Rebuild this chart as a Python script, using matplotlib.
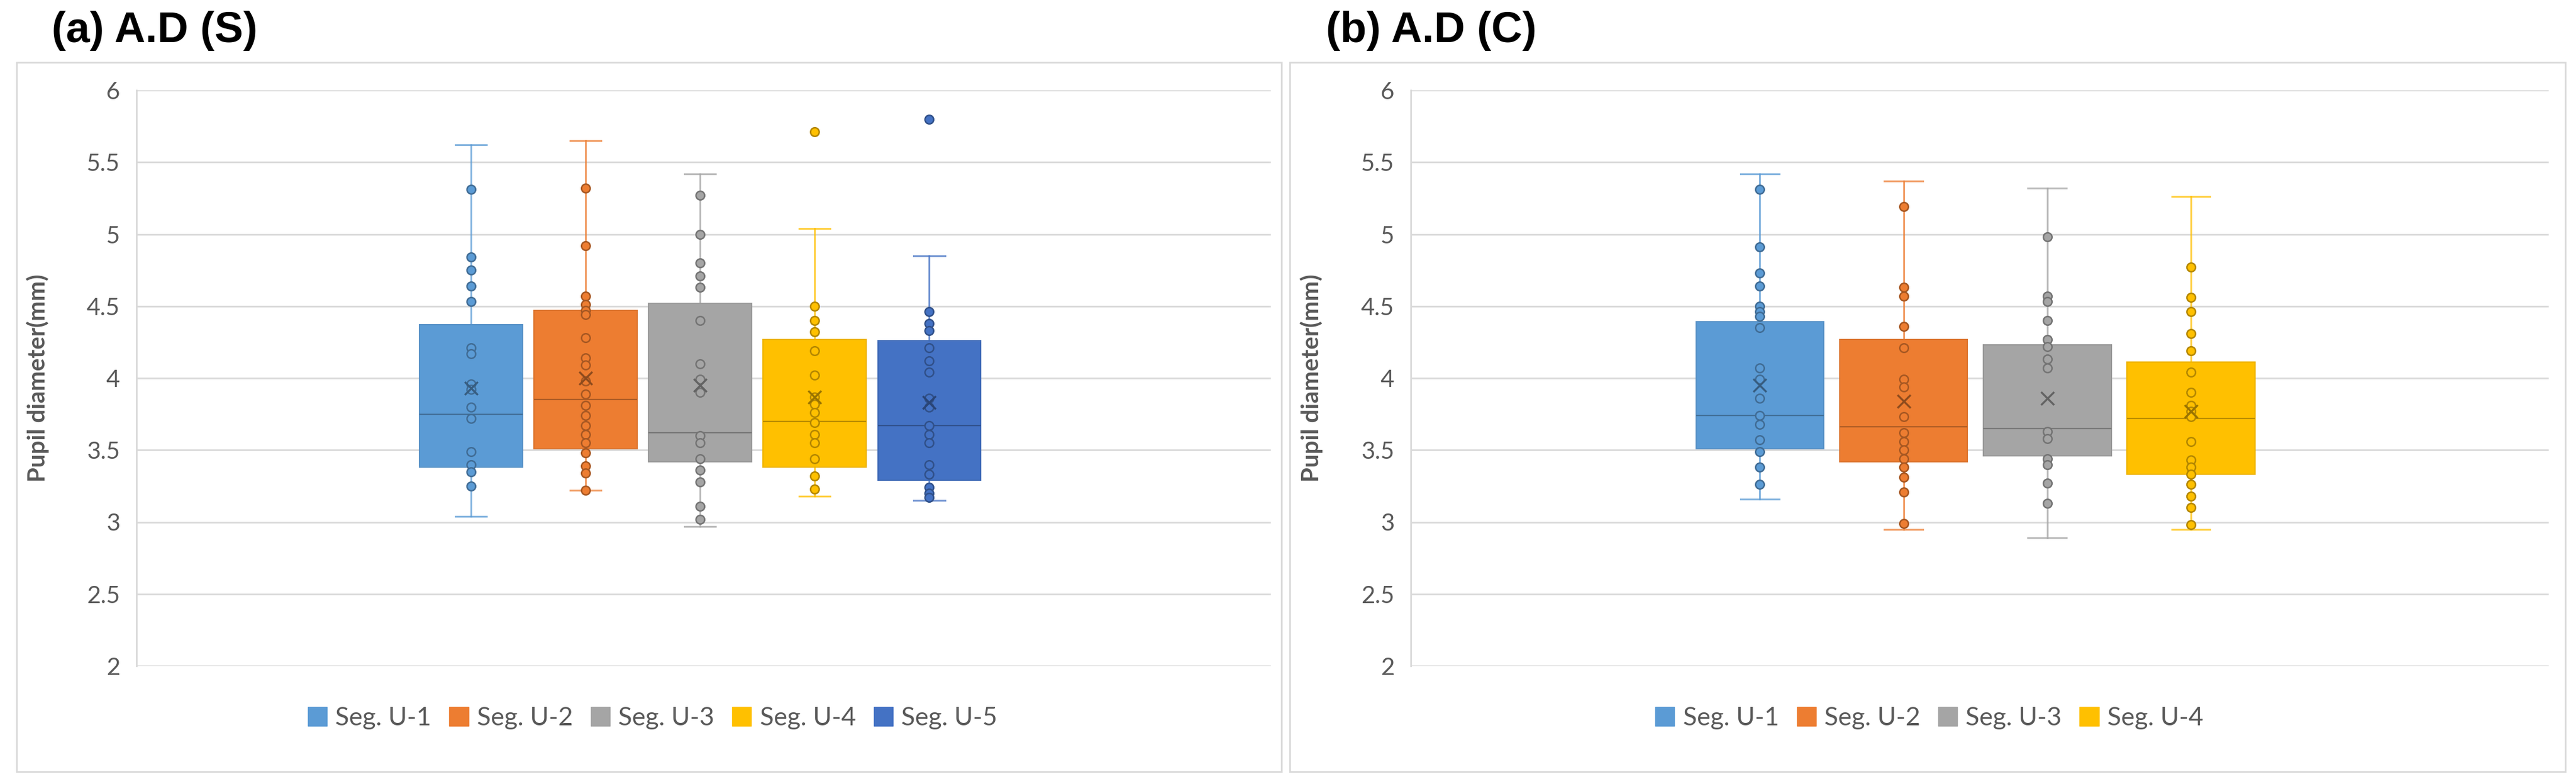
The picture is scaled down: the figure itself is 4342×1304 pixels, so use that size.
import numpy as np
import matplotlib.pyplot as plt
from matplotlib.patches import Patch, Rectangle
from matplotlib.colors import to_rgb

# ---- data ----
seg_labels_s = ['Seg. U-1', 'Seg. U-2', 'Seg. U-3', 'Seg. U-4', 'Seg. U-5']
seg_labels_c = ['Seg. U-1', 'Seg. U-2', 'Seg. U-3', 'Seg. U-4']

# (a) A.D (S): box stats per segment
s_whislo = [3.04, 3.22, 2.97, 3.18, 3.15]
s_q1 = [3.38, 3.51, 3.42, 3.38, 3.29]
s_med = [3.75, 3.85, 3.62, 3.70, 3.67]
s_q3 = [4.37, 4.47, 4.52, 4.27, 4.26]
s_whishi = [5.62, 5.65, 5.42, 5.04, 4.85]
s_mean = [3.93, 4.00, 3.95, 3.87, 3.83]

s_u1 = [5.31, 4.84, 4.75, 4.64, 4.53, 4.21, 4.17, 3.96, 3.92, 3.80, 3.72, 3.49, 3.40, 3.35, 3.25]
s_u2 = [5.32, 4.92, 4.57, 4.51, 4.47, 4.44, 4.28, 4.14, 4.09, 3.98, 3.89, 3.81, 3.74, 3.67,
        3.61, 3.55, 3.48, 3.39, 3.34, 3.22]
s_u3 = [5.27, 5.00, 4.80, 4.71, 4.63, 4.40, 4.10, 3.99, 3.90, 3.60, 3.55, 3.44, 3.36, 3.28, 3.11, 3.02]
s_u4 = [5.71, 4.50, 4.40, 4.32, 4.19, 4.02, 3.87, 3.82, 3.76, 3.69, 3.61, 3.55, 3.44, 3.32, 3.23]
s_u5 = [5.80, 4.46, 4.38, 4.33, 4.21, 4.12, 4.04, 3.86, 3.80, 3.67, 3.61, 3.55, 3.40, 3.33,
        3.24, 3.20, 3.17]

# (b) A.D (C)
c_whislo = [3.16, 2.95, 2.89, 2.95]
c_q1 = [3.51, 3.42, 3.46, 3.33]
c_med = [3.74, 3.66, 3.65, 3.72]
c_q3 = [4.39, 4.27, 4.23, 4.11]
c_whishi = [5.42, 5.37, 5.32, 5.26]
c_mean = [3.95, 3.84, 3.86, 3.77]

c_u1 = [5.31, 4.91, 4.73, 4.64, 4.50, 4.46, 4.43, 4.35, 4.07, 3.99, 3.86, 3.74, 3.68, 3.57,
        3.49, 3.38, 3.26]
c_u2 = [5.19, 4.63, 4.57, 4.36, 4.21, 3.99, 3.94, 3.73, 3.62, 3.56, 3.50, 3.44, 3.38, 3.31, 3.21, 2.99]
c_u3 = [4.98, 4.57, 4.53, 4.40, 4.27, 4.22, 4.13, 4.07, 3.63, 3.58, 3.44, 3.40, 3.27, 3.13]
c_u4 = [4.77, 4.56, 4.46, 4.31, 4.19, 4.04, 3.90, 3.81, 3.77, 3.73, 3.56, 3.43, 3.38, 3.33,
        3.26, 3.18, 3.10, 2.98]

colors = ['#5B9BD5', '#ED7D31', '#A5A5A5', '#FFC000', '#4472C4']
TEXT = '#595959'
GRID = '#D9D9D9'

W, H = 4342, 1304
plt.rcParams['font.family'] = ['Lato', 'DejaVu Sans']


def darker(c, f):
    r, g, b = to_rgb(c)
    return (r * f, g * f, b * f)


def draw_panel(ax, labels, whislo, q1, med, q3, whishi, means, points, xlim, width):
    pos = np.arange(len(labels))
    stats = []
    for i in range(len(labels)):
        stats.append(dict(whislo=whislo[i], q1=q1[i], med=med[i], q3=q3[i],
                          whishi=whishi[i], mean=means[i], fliers=[], label=labels[i]))
    bp = ax.bxp(stats, positions=pos, widths=width, patch_artist=True, showmeans=True,
                capwidths=width * 0.3, manage_ticks=False)
    for i in range(len(labels)):
        c = colors[i]
        bp['boxes'][i].set(facecolor=c, edgecolor=darker(c, 0.93), linewidth=1.5, zorder=2)
        bp['medians'][i].set(color=darker(c, 0.72), linewidth=1.6, zorder=3)
        for w in bp['whiskers'][2 * i:2 * i + 2]:
            w.set(color=c, linewidth=2.2, alpha=0.75, zorder=1.5)
        for cp in bp['caps'][2 * i:2 * i + 2]:
            cp.set(color=c, linewidth=2.2, alpha=0.75, zorder=1.5)
        bp['means'][i].set(marker='x', markersize=16, markeredgewidth=2.4,
                           markeredgecolor=darker(c, 0.6), zorder=5)
        vals = points[i]
        ax.plot([pos[i]] * len(vals), vals, 'o', markersize=10.5, markerfacecolor=c,
                markeredgecolor=darker(c, 0.7), markeredgewidth=1.8, zorder=4)

    ax.set_ylim(2, 6)
    ax.set_xlim(*xlim)
    ax.set_yticks(np.arange(2, 6.01, 0.5))
    ax.set_yticklabels(['2', '2.5', '3', '3.5', '4', '4.5', '5', '5.5', '6'])
    ax.set_xticks([])
    ax.yaxis.grid(True, color=GRID, linewidth=2)
    ax.set_axisbelow(True)
    for s in ['top', 'right', 'bottom']:
        ax.spines[s].set_visible(False)
    ax.spines['left'].set_color(GRID)
    ax.spines['left'].set_linewidth(2)
    ax.tick_params(axis='y', length=0, pad=20, labelsize=29, labelcolor=TEXT)
    ax.set_ylabel('Pupil diameter(mm)', fontsize=29, fontweight='bold', color=TEXT)
    ax.yaxis.set_label_coords(-0.077, 0.5)


fig = plt.figure(figsize=(W / 100, H / 100), dpi=100)
fig.patch.set_facecolor('white')

# chart frames
fig.add_artist(Rectangle((28 / W, 1 - 1300 / H), 2132 / W, 1195 / H, transform=fig.transFigure,
                         fill=False, edgecolor=GRID, linewidth=2))
fig.add_artist(Rectangle((2174 / W, 1 - 1300 / H), 2150 / W, 1195 / H, transform=fig.transFigure,
                         fill=False, edgecolor=GRID, linewidth=2))

ax1 = fig.add_axes([230 / W, 1 - 1122 / H, 1912 / W, 970 / H])
ax2 = fig.add_axes([2378 / W, 1 - 1122 / H, 1918 / W, 970 / H])

draw_panel(ax1, seg_labels_s, s_whislo, s_q1, s_med, s_q3, s_whishi, s_mean,
           [s_u1, s_u2, s_u3, s_u4, s_u5], (-2.92, 6.98), 0.9)
draw_panel(ax2, seg_labels_c, c_whislo, c_q1, c_med, c_q3, c_whishi, c_mean,
           [c_u1, c_u2, c_u3, c_u4], (-2.43, 5.49), 0.89)

# titles
title_font = ['Liberation Sans', 'DejaVu Sans']
fig.text(87 / W, 1 - 52 / H, '(a) A.D (S)', fontsize=52, fontweight='bold',
         family=title_font, va='center', ha='left', color='black')
fig.text(2235 / W, 1 - 52 / H, '(b) A.D (C)', fontsize=52, fontweight='bold',
         family=title_font, va='center', ha='left', color='black')

# legends
for labels, xc in [(seg_labels_s, 1100 / W), (seg_labels_c, 3252 / W)]:
    handles = [Patch(facecolor=colors[i], edgecolor=colors[i], label=labels[i])
               for i in range(len(labels))]
    fig.legend(handles=handles, loc='center', bbox_to_anchor=(xc, 1 - 1210 / H), ncol=len(labels),
               frameon=False, fontsize=31, labelcolor=TEXT, handlelength=0.75, handleheight=0.75,
               handletextpad=0.33, columnspacing=0.7)

fig.savefig('out.png', dpi=100)
